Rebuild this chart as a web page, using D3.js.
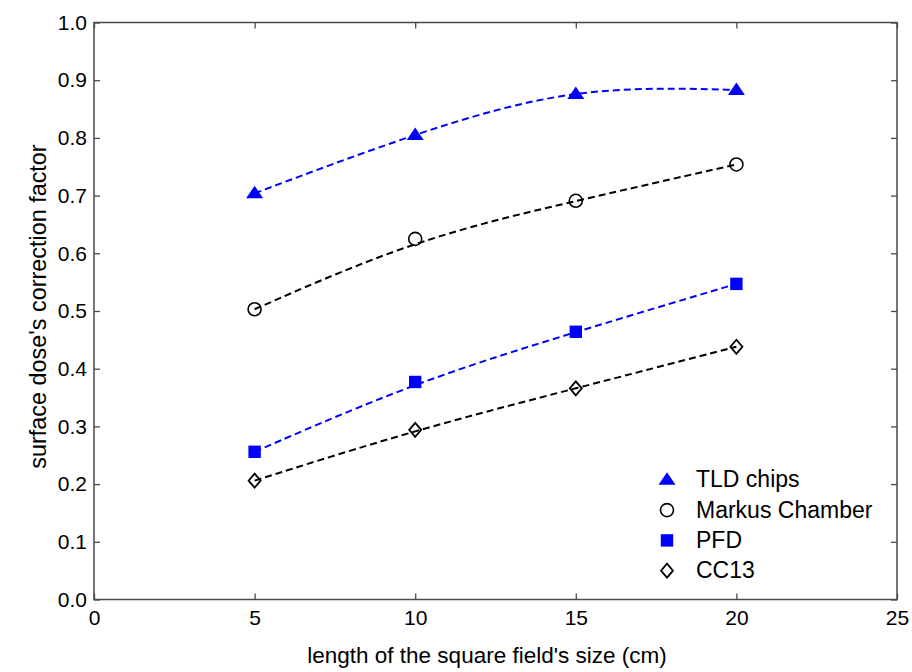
<!DOCTYPE html>
<html><head><meta charset="utf-8">
<script src="https://cdn.jsdelivr.net/npm/d3@7"></script>
<style>
html,body{margin:0;padding:0;background:#fff;}
svg{display:block;font-family:"Liberation Sans",Arial,sans-serif;}
</style></head>
<body><svg id="chart" width="912" height="672"></svg>
<script>
const fieldSizes = [5, 10, 15, 20];
const tldChips = [0.704, 0.805, 0.876, 0.883];
const markusChamber = [0.503, 0.625, 0.691, 0.754];
const pfd = [0.256, 0.377, 0.464, 0.547];
const cc13 = [0.206, 0.294, 0.366, 0.438];
const xTicks = [0, 5, 10, 15, 20, 25];
const yTicks = [0, 0.1, 0.2, 0.3, 0.4, 0.5, 0.6, 0.7, 0.8, 0.9, 1.0];
const seriesNames = ["TLD chips", "Markus Chamber", "PFD", "CC13"];

const series = [
  {name: seriesNames[0], values: tldChips, color: "#0000ff", marker: "triangle", curve: d3.curveNatural},
  {name: seriesNames[1], values: markusChamber, color: "#000000", marker: "circle", curve: d3.curveBasis},
  {name: seriesNames[2], values: pfd, color: "#0000ff", marker: "square", curve: d3.curveBasis},
  {name: seriesNames[3], values: cc13, color: "#000000", marker: "diamond", curve: d3.curveBasis}
];

const L = 94, R = 897, T = 22.5, B = 599.5;
const svg = d3.select("#chart");
const x = d3.scaleLinear().domain([0, 25]).range([L, R]);
const y = d3.scaleLinear().domain([0, 1]).range([B, T]);
const axisColor = "#4a4a4a";
const FONT = '"Liberation Sans",Arial,sans-serif';

// frame
svg.append("rect").attr("x", L).attr("y", T).attr("width", R - L).attr("height", B - T)
  .attr("fill", "none").attr("stroke", axisColor).attr("stroke-width", 1.5);

// axes with inner ticks
const fmtY = d3.format(".1f");
const gx = svg.append("g").attr("transform", `translate(0,${B})`)
  .call(d3.axisBottom(x).tickValues(xTicks).tickSizeInner(-6).tickSizeOuter(0).tickPadding(11).tickFormat(d3.format("d")));
const gxt = svg.append("g").attr("transform", `translate(0,${T})`)
  .call(d3.axisTop(x).tickValues(xTicks).tickSizeInner(-6).tickSizeOuter(0).tickFormat(""));
const gy = svg.append("g").attr("transform", `translate(${L},0)`)
  .call(d3.axisLeft(y).tickValues(yTicks).tickSizeInner(-6).tickSizeOuter(0).tickPadding(7).tickFormat(fmtY));
const gyr = svg.append("g").attr("transform", `translate(${R},0)`)
  .call(d3.axisRight(y).tickValues(yTicks).tickSizeInner(-6).tickSizeOuter(0).tickFormat(""));
[gx, gxt, gy, gyr].forEach(g => {
  g.select(".domain").remove();
  g.selectAll(".tick line").attr("stroke", axisColor).attr("stroke-width", 1.3);
  g.selectAll(".tick text").attr("fill", "#000").style("font-size", "21px").style("font-family", FONT);
});
gx.selectAll(".tick text").attr("dy", "0.71em");

// axis labels
svg.append("text").attr("x", 487).attr("y", 663).attr("text-anchor", "middle")
  .style("font-size", "22.5px").text("length of the square field's size (cm)");
svg.append("text").attr("transform", "translate(46,306.5) rotate(-90)").attr("text-anchor", "middle")
  .style("font-size", "23.4px").text("surface dose's correction factor");

// lines
series.forEach(s => {
  const line = d3.line().x(d => x(d[0])).y(d => y(d[1])).curve(s.curve);
  const pts = fieldSizes.map((f, i) => [f, s.values[i]]);
  svg.append("path").attr("d", line(pts)).attr("fill", "none")
    .attr("stroke", s.color).attr("stroke-width", 2).attr("stroke-dasharray", "7,4");
});

function drawMarker(g, type, cx, cy, color) {
  if (type === "triangle") {
    g.append("path").attr("d", `M${cx},${cy - 7.5}L${cx + 8.5},${cy + 5}L${cx - 8.5},${cy + 5}Z`)
      .attr("fill", color);
  } else if (type === "circle") {
    g.append("circle").attr("cx", cx).attr("cy", cy).attr("r", 6.5)
      .attr("fill", "none").attr("stroke", color).attr("stroke-width", 1.6);
  } else if (type === "square") {
    g.append("rect").attr("x", cx - 6.2).attr("y", cy - 6.2).attr("width", 12.4).attr("height", 12.4)
      .attr("fill", color);
  } else if (type === "diamond") {
    g.append("path").attr("d", `M${cx},${cy - 7}L${cx + 6},${cy}L${cx},${cy + 7}L${cx - 6},${cy}Z`)
      .attr("fill", "none").attr("stroke", color).attr("stroke-width", 1.8);
  }
}

// markers
const mg = svg.append("g");
series.forEach(s => {
  fieldSizes.forEach((f, i) => drawMarker(mg, s.marker, x(f), y(s.values[i]), s.color));
});

// legend
const lg = svg.append("g");
series.forEach((s, i) => {
  const base = 487.3 + i * 30.3;
  drawMarker(lg, s.marker, 667, base - 7.5, s.color);
  lg.append("text").attr("x", 696).attr("y", base).style("font-size", "23px").attr("fill", "#000").text(s.name);
});
</script></body></html>
